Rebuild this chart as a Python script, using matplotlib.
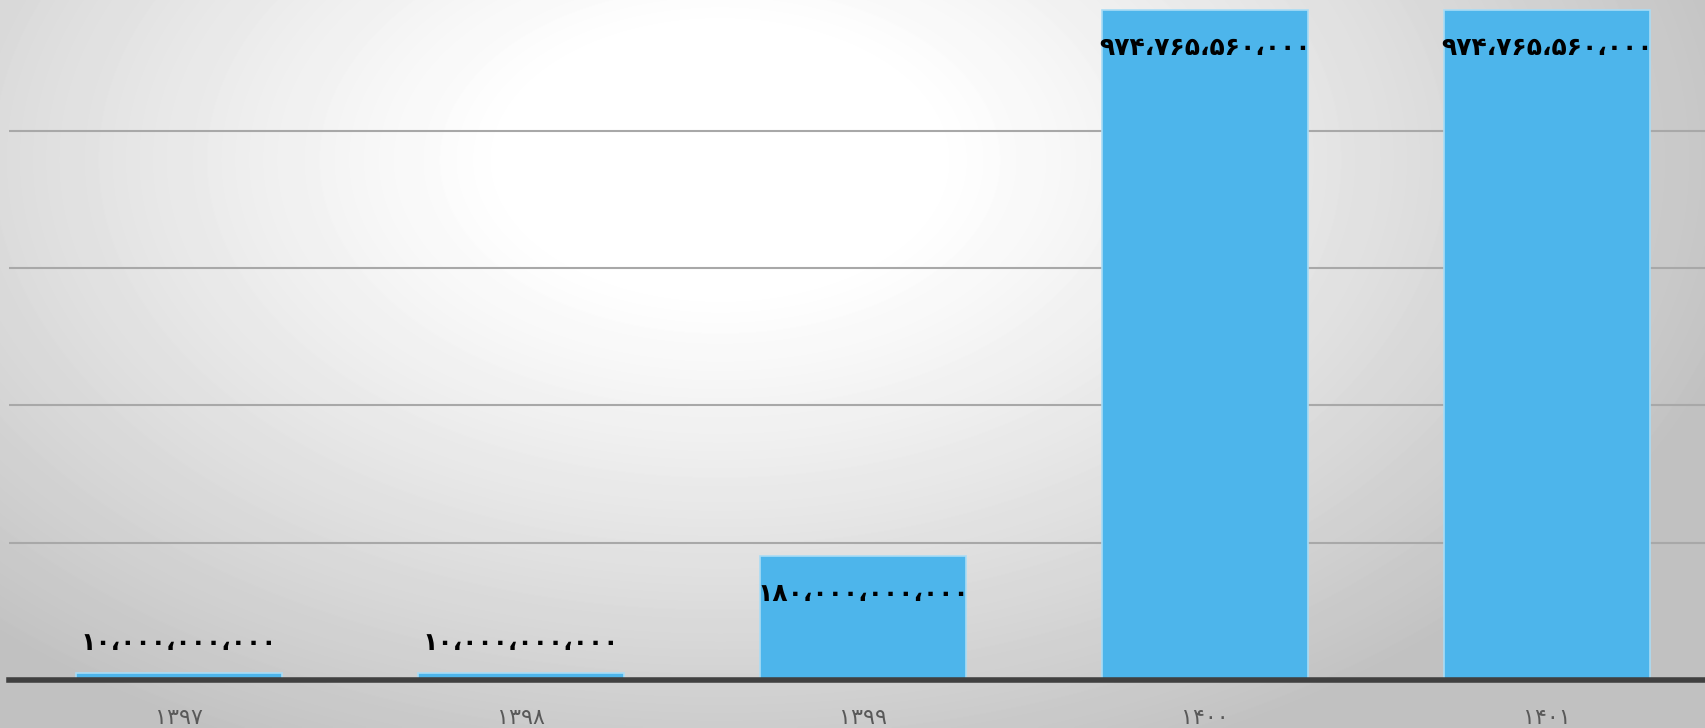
import numpy as np
import matplotlib.pyplot as plt

years = ['۱۳۹۷', '۱۳۹۸', '۱۳۹۹', '۱۴۰۰', '۱۴۰۱']
values = [10000000000, 10000000000, 180000000000, 974765560000, 974765560000]
value_labels = ['۱۰،۰۰۰،۰۰۰،۰۰۰', '۱۰،۰۰۰،۰۰۰،۰۰۰', '۱۸۰،۰۰۰،۰۰۰،۰۰۰',
                '۹۷۴،۷۶۵،۵۶۰،۰۰۰', '۹۷۴،۷۶۵،۵۶۰،۰۰۰']

W, H = 1706, 728
fig = plt.figure(figsize=(W / 100, H / 100), dpi=100)

# radial gray background
bg = fig.add_axes([0, 0, 1, 1], zorder=-5)
yy, xx = np.mgrid[0:H, 0:W]
d = np.sqrt(((xx - 720) / 1050.0) ** 2 + ((yy - 160) / 650.0) ** 2)
v = 1 - 0.24 * np.clip((d - 0.2) / 0.8, 0, 1) ** 1.1
bg.imshow(v, cmap='gray', vmin=0, vmax=1, aspect='auto', interpolation='bilinear')
bg.axis('off')

ax = fig.add_axes([9 / W, (H - 680) / H, 1 - 9 / W, 680 / H])
ax.patch.set_alpha(0)

x = np.arange(len(years))
ax.bar(x, values, width=0.6, color='#4db5eb', edgecolor='#a9dcf5', linewidth=1.2, zorder=3)

ax.set_xlim(-0.497, 4.465)
ax.set_ylim(0, 990e9)
ax.set_yticks([200e9, 400e9, 600e9, 800e9])
ax.yaxis.grid(True, color='#a8a8a8', linewidth=1.5, zorder=0)
ax.tick_params(axis='y', left=False, labelleft=False)
ax.tick_params(axis='x', bottom=False, pad=17)
ax.set_xticks(x)
ax.set_xticklabels(years, fontsize=16, color='#595959', family='DejaVu Sans')

for s in ['top', 'right', 'left']:
    ax.spines[s].set_visible(False)
ax.spines['bottom'].set_color('#404040')
ax.spines['bottom'].set_linewidth(4)
ax.spines['bottom'].set_zorder(4)

for xi, val, lab in zip(x, values, value_labels):
    if val > 0.1 * max(values):
        off = -38
    else:
        off = 30
    ax.annotate(lab, (xi, val), xytext=(0, off), textcoords='offset pixels',
                ha='center', va='center', fontsize=18, fontweight='bold',
                color='black', family='DejaVu Sans', zorder=5)

fig.savefig('out.png', dpi=100)
